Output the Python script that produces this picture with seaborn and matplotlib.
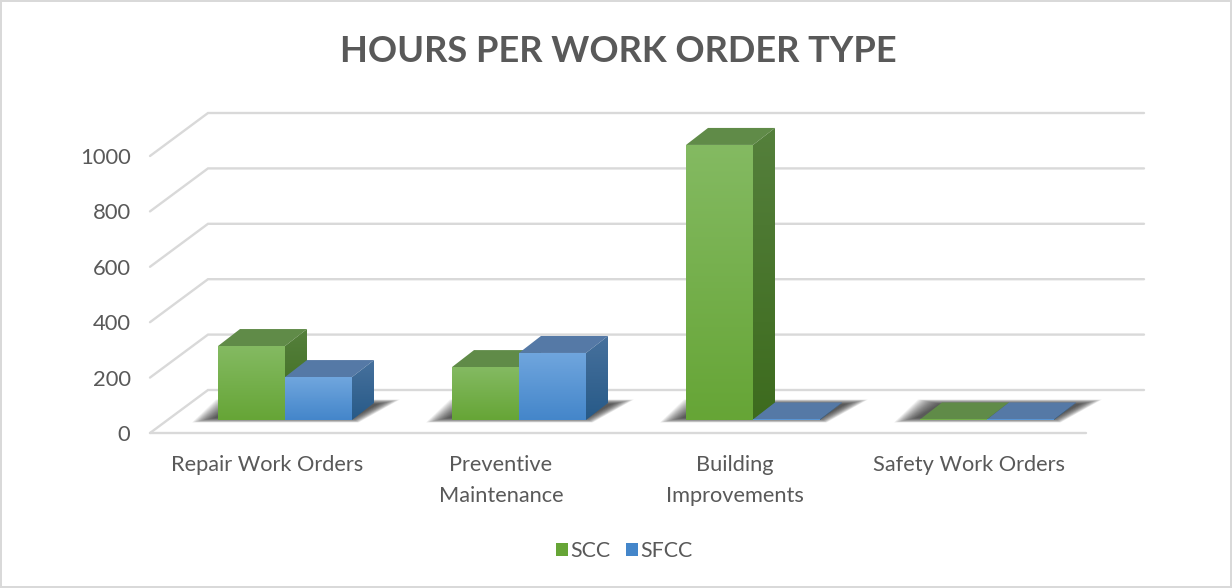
import numpy as np
import pandas as pd
import matplotlib
matplotlib.use('Agg')
import matplotlib.pyplot as plt
import seaborn as sns
from matplotlib.colors import LinearSegmentedColormap
from matplotlib.patches import Polygon
from matplotlib.transforms import ScaledTranslation

categories = ['Repair Work Orders', 'Preventive\nMaintenance', 'Building\nImprovements', 'Safety Work Orders']
scc_hours = [267, 191, 993, 2]
sfcc_hours = [155, 242, 2, 2]
y_ticks = [0, 200, 400, 600, 800, 1000]

sns.set_theme(style='white')
plt.rcParams['font.family'] = ['Lato', 'DejaVu Sans']
GREY = '#595959'
GRID = '#d9d9d9'

# face colours: (top of gradient, bottom of gradient)
front = {'SCC': ('#84ba62', '#66a536'), 'SFCC': ('#70a6de', '#4486ca')}
side = {'SCC': ('#55803c', '#3d6b1e'), 'SFCC': ('#47719d', '#275a88')}
roof = {'SCC': '#608b48', 'SFCC': '#5579a6'}

df = pd.DataFrame({
    'category': categories * 2,
    'series': ['SCC'] * 4 + ['SFCC'] * 4,
    'hours': scc_hours + sfcc_hours,
})

W, H = 1232, 588
fig = plt.figure(figsize=(W / 100, H / 100), dpi=100)
fig.patch.set_edgecolor(GRID)
fig.patch.set_linewidth(1.5)

# axes box is the plane of the bar fronts
ax = fig.add_axes([168 / W, 1 - 420 / H, 936 / W, 277 / H])
ax.patch.set_alpha(0)

px_x = 1 / 234  # category units per pixel
px_y = 1000 / 277  # hours per pixel

sns.barplot(data=df, x='category', y='hours', hue='series', order=categories,
            hue_order=['SCC', 'SFCC'], palette={k: v[1] for k, v in front.items()},
            width=0.5726, gap=0, saturation=1, ax=ax, zorder=5, linewidth=0)
sns.despine(ax=ax, left=True, bottom=True)


def gradient(verts, colors, z):
    poly = Polygon(verts, closed=True, facecolor='none', edgecolor='none', transform=ax.transData)
    ax.add_patch(poly)
    xs, ys = zip(*verts)
    cmap = LinearSegmentedColormap.from_list('g', colors)
    im = ax.imshow(np.linspace(0, 1, 128)[:, None], cmap=cmap, aspect='auto', origin='upper',
                   extent=(min(xs), max(xs), min(ys), max(ys)), zorder=z)
    im.set_clip_path(poly)
    im.set_clip_box(fig.bbox)


# walls and floor
dep_x, dep_y = 22 * px_x, 17 * px_y
fl_x0, fl_x1 = -0.5 - 18 * px_x, 3.5 - 18 * px_x
fl_dy = -13 * px_y
back_dx, back_dy = 58 * px_x, 43 * px_y
for v in y_ticks:
    y0 = v + fl_dy
    ax.plot([fl_x0, fl_x0 + back_dx, fl_x1 + back_dx], [y0, y0 + back_dy, y0 + back_dy],
            color=GRID, lw=1.7, clip_on=False, zorder=1, solid_joinstyle='miter')
ax.plot([fl_x0, fl_x1], [fl_dy, fl_dy], color=GRID, lw=1.7, clip_on=False, zorder=1)

# soft shadows on the floor
steps = 24
for i in range(len(categories)):
    left = ax.containers[0][i].get_x()
    right = ax.containers[1][i].get_x() + ax.containers[1][i].get_width()
    for k in range(steps):
        t = k / (steps - 1)  # 0 outside, 1 inside
        bx = 22 * (1 - t)
        by = 4.5 * (1 - t) * px_y
        ax.add_patch(Polygon([(left + (-4 - bx) * px_x, -by + 2 * px_y),
                              (right + (bx * 0.3) * px_x, -by + 2 * px_y),
                              (right + (26 + bx) * px_x, dep_y + by - 1 * px_y),
                              (left + (20 - bx) * px_x, dep_y + by - 1 * px_y)],
                             closed=True, facecolor='#2a2a2a', edgecolor='none',
                             alpha=0.055, zorder=2, clip_on=False))

# 3D faces worked out from the seaborn bars
for j, name in enumerate(['SCC', 'SFCC']):
    z = 5 + j * 2
    for bar in ax.containers[j]:
        bar.set_zorder(z + 1)
        x0, x1 = bar.get_x(), bar.get_x() + bar.get_width()
        top = bar.get_height()
        ax.add_patch(Polygon([(x0, top), (x1, top), (x1 + dep_x, top + dep_y), (x0 + dep_x, top + dep_y)],
                             closed=True, facecolor=roof[name], edgecolor='none', zorder=z, clip_on=False))
        gradient([(x1, 0), (x1 + dep_x, dep_y), (x1 + dep_x, top + dep_y), (x1, top)], side[name], z)
        gradient([(x0, 0), (x1, 0), (x1, top), (x0, top)], front[name], z + 1)

ax.set_xlim(-0.5, 3.5)
ax.set_ylim(0, 1000)
ax.set_yticks(y_ticks)
ax.set_xlabel('')
ax.set_ylabel('')
ax.tick_params(axis='y', length=0, labelsize=15.8, labelcolor=GREY, pad=27)
ax.tick_params(axis='x', length=0, labelsize=15.7, labelcolor=GREY, pad=25)
for lab in ax.get_xticklabels():
    lab.set_linespacing(1.7)
    lab.set_transform(lab.get_transform() + ScaledTranslation(-0.18, 0, fig.dpi_scale_trans))
for lab in ax.get_yticklabels():
    lab.set_transform(lab.get_transform() + ScaledTranslation(0, -0.13, fig.dpi_scale_trans))

fig.text(618.5 / W, 1 - 51.5 / H, 'HOURS PER WORK ORDER TYPE', ha='center', va='center',
         fontsize=26.1, fontweight='bold', color=GREY)

sns.move_legend(ax, 'center', bbox_to_anchor=(624 / W, 1 - 551 / H), bbox_transform=fig.transFigure,
                ncol=2, frameon=False, title=None, fontsize=15.4, labelcolor=GREY,
                handlelength=0.56, handleheight=0.56, handletextpad=0.1, columnspacing=0.75)

fig.savefig('out.png', dpi=100, facecolor='white', edgecolor=GRID)
